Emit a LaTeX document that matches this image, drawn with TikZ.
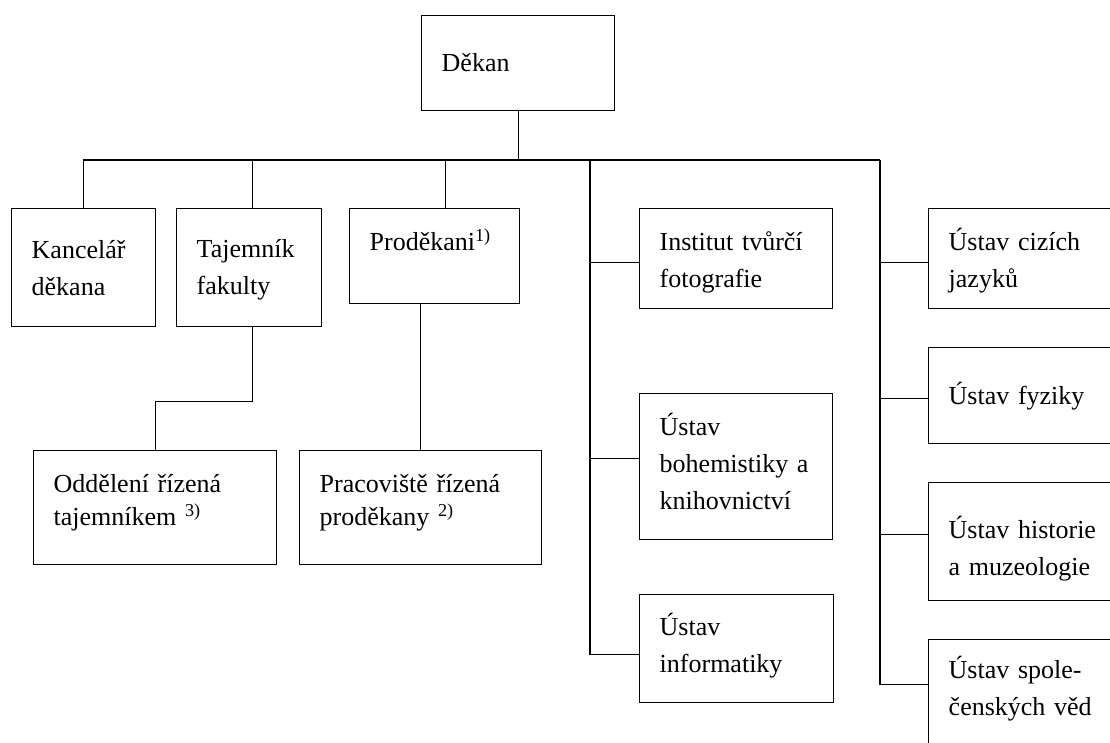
\documentclass[tikz,border=0pt]{standalone}
\usepackage{fontspec}
\setmainfont{Liberation Serif}
\usepackage{tikz}

\tikzset{
    unit/.style={draw, rectangle, line width=1.4pt, anchor=north west, align=left,
                 inner xsep=20pt, inner ysep=0pt, text height=18pt,
                 font=\fontsize{26}{37}\selectfont},
    tight/.style={font=\fontsize{26}{33}\selectfont}
}

\begin{document}
\begin{tikzpicture}[x=1pt,y=-1pt,line width=1.4pt]
    \useasboundingbox (0,0) rectangle (1110,742);
    \clip (0,0) rectangle (1110,742);

    \node[unit, text width=153pt, minimum height=95pt,  text depth=1pt]    (dekan)      at (421,15)  {Děkan};
    \node[unit, text width=104pt, minimum height=118pt, text depth=37.4pt] (kancelar)   at (11,208)  {Kancelář\\děkana};
    \node[unit, text width=105pt, minimum height=118pt, text depth=38pt]   (tajemnik)   at (176,208) {Tajemník\\fakulty};
    \node[unit, text width=130pt, minimum height=95pt,  text depth=29pt]   (prodekani)  at (349,208) {Proděkani\textsuperscript{1)}};
    \node[unit, tight, text width=203pt, minimum height=114pt, text depth=48.6pt] (oddeleni)   at (33,450)  {Oddělení řízená\\tajemníkem \textsuperscript{3)}};
    \node[unit, tight, text width=202pt, minimum height=114pt, text depth=48.6pt] (pracoviste) at (299,450) {Pracoviště řízená\\proděkany \textsuperscript{2)}};

    \node[unit, text width=153pt, minimum height=100pt, text depth=35.4pt] (itf)  at (639,208) {Institut tvůrčí\\fotografie};
    \node[unit, text width=153pt, minimum height=146pt, text depth=81.2pt] (ubk)  at (639,393) {Ústav\\bohemistiky a\\knihovnictví};
    \node[unit, text width=154pt, minimum height=108pt, text depth=45pt]   (uinf) at (639,594) {Ústav\\informatiky};

    \node[unit, text width=160pt, minimum height=100pt, text depth=35.4pt] (ucj)  at (928,208) {Ústav cizích\\jazyků};
    \node[unit, text width=160pt, minimum height=96pt,  text depth=1.4pt]  (ufyz) at (928,347) {Ústav fyziky};
    \node[unit, text width=160pt, minimum height=118pt, text depth=24.6pt] (uhm)  at (928,482) {Ústav historie\\a muzeologie};
    \node[unit, text width=160pt, minimum height=130pt, text depth=70.6pt] (usv)  at (928,639) {Ústav spole-\\čenských věd};

    \coordinate (busL) at (83,160);
    \coordinate (busR) at (880,160);
    \coordinate (colL) at (590,160);

    \draw (busL) -- (busR);
    \draw (dekan) -- (dekan |- busL);
    \draw (kancelar) -- (kancelar |- busL);
    \draw ([xshift=3pt]tajemnik.north) -- ([xshift=3pt]tajemnik.north |- busL);
    \draw ([xshift=11pt]prodekani.north) -- ([xshift=11pt]prodekani.north |- busL);
    \draw ([xshift=3pt]tajemnik.south) -- ++(0,74) -| (oddeleni.north);
    \draw (pracoviste) -- (pracoviste |- prodekani.south);

    \draw (colL) |- ([yshift=-6pt]uinf.west);
    \draw ([yshift=-4pt]itf.west) -- ([yshift=-4pt]itf.west -| colL);
    \draw ([yshift=8pt]ubk.west) -- ([yshift=8pt]ubk.west -| colL);

    \draw (busR) |- ([yshift=20pt]usv.west);
    \draw ([yshift=-4pt]ucj.west) -- ([yshift=-4pt]ucj.west -| busR);
    \draw ([yshift=-3pt]ufyz.west) -- ([yshift=-3pt]ufyz.west -| busR);
    \draw ([yshift=7pt]uhm.west) -- ([yshift=7pt]uhm.west -| busR);
\end{tikzpicture}
\end{document}
